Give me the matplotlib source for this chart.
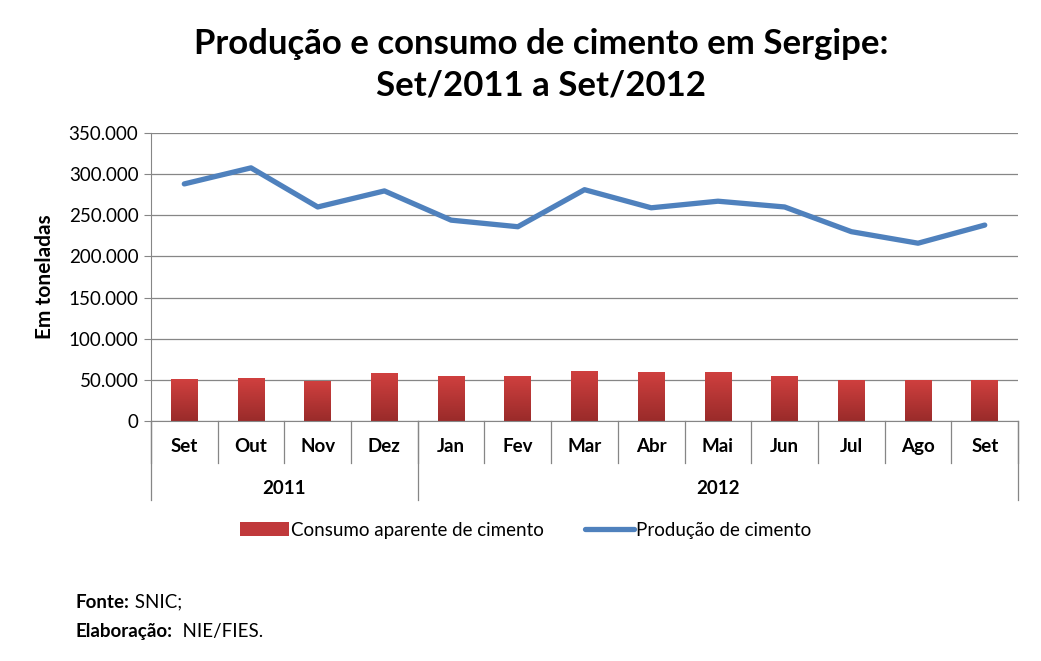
import matplotlib.pyplot as plt
import matplotlib.transforms as mtransforms
from matplotlib.colors import LinearSegmentedColormap
import numpy as np

# dados
meses = ['Set', 'Out', 'Nov', 'Dez', 'Jan', 'Fev', 'Mar', 'Abr', 'Mai', 'Jun', 'Jul', 'Ago', 'Set']
anos = ['2011', '2012']
meses_por_ano = [4, 9]
consumo = [51000, 52000, 49000, 58000, 55000, 55000, 61000, 60000, 60000, 55000, 50000, 50000, 50000]
producao = [288000, 307500, 260000, 279500, 244000, 236000, 281000, 259000, 267000, 260000, 230000, 216000, 238000]
yticks = list(range(0, 350001, 50000))

plt.rcParams['font.family'] = ['Lato', 'DejaVu Sans']

fig = plt.figure(figsize=(10.41, 6.61), dpi=100)
ax = fig.add_axes([0.145, 0.363, 0.833, 0.436])

x = np.arange(len(meses))
bars = ax.bar(x, consumo, width=0.4, color='#C0393B', zorder=2)

# gradiente vertical nas barras
grad = np.linspace(0, 1, 64).reshape(-1, 1)
cmap = LinearSegmentedColormap.from_list('red', ['#9A2B2A', '#D0403F'])
for b in bars:
    x0, y0 = b.get_x(), b.get_y()
    im = ax.imshow(grad, extent=[x0, x0 + b.get_width(), y0, y0 + b.get_height()],
                   origin='lower', cmap=cmap, aspect='auto', zorder=2.1)
    im.set_clip_path(b)

linha, = ax.plot(x, producao, color='#4F81BD', linewidth=3.8, solid_capstyle='round',
                 solid_joinstyle='round', zorder=3)

ax.set_xlim(-0.5, len(meses) - 0.5)
ax.set_ylim(0, 350000)
ax.set_yticks(yticks)
ax.set_yticklabels(['0' if v == 0 else f'{v // 1000}.000' for v in yticks], fontsize=13.5)
ax.yaxis.grid(True, color='#868686', linewidth=0.9, zorder=0)
ax.set_axisbelow(True)
for s in ['top', 'right']:
    ax.spines[s].set_visible(False)
ax.spines['left'].set_color('#868686')
ax.spines['bottom'].set_color('#868686')
ax.tick_params(axis='y', length=5, color='#868686', pad=4)
ax.set_xticks([])
ax.set_ylabel('Em toneladas', fontsize=15, fontweight='bold', labelpad=10)

# eixo de categorias em dois niveis
trans = mtransforms.blended_transform_factory(ax.transData, ax.transAxes)
for i in range(len(meses) + 1):
    ax.plot([i - 0.5, i - 0.5], [0, -0.145], transform=trans, color='#868686',
            linewidth=0.9, clip_on=False)
for i, m in enumerate(meses):
    ax.text(i, -0.09, m, transform=trans, ha='center', va='center',
            fontsize=13.5, fontweight='bold')
limites = [0]
for n in meses_por_ano:
    limites.append(limites[-1] + n)
for k, ano in enumerate(anos):
    a, b = limites[k], limites[k + 1]
    ax.plot([a - 0.5, a - 0.5], [0, -0.275], transform=trans, color='#868686',
            linewidth=0.9, clip_on=False)
    ax.text((a + b - 1) / 2, -0.235, ano, transform=trans, ha='center', va='center',
            fontsize=13.5, fontweight='bold')
ax.plot([limites[-1] - 0.5] * 2, [0, -0.275], transform=trans, color='#868686',
        linewidth=0.9, clip_on=False)

fig.text(0.52, 0.902, 'Produção e consumo de cimento em Sergipe:\nSet/2011 a Set/2012',
         ha='center', va='center', fontsize=25, fontweight='bold', linespacing=1.4)

fig.legend(handles=[bars, linha], labels=['Consumo aparente de cimento', 'Produção de cimento'],
           loc='center', bbox_to_anchor=(0.505, 0.198), ncol=2, frameon=False,
           fontsize=13.5, handlelength=2.6, handletextpad=0.1, columnspacing=2.2)

# rodape
t1 = fig.text(0.073, 0.089, 'Fonte:', fontsize=13.5, fontweight='bold', va='center')
t2 = fig.text(0.073, 0.045, 'Elaboração:', fontsize=13.5, fontweight='bold', va='center')
fig.canvas.draw()
r = fig.canvas.get_renderer()
bb1 = t1.get_window_extent(r).transformed(fig.transFigure.inverted())
bb2 = t2.get_window_extent(r).transformed(fig.transFigure.inverted())
fig.text(bb1.x1, 0.089, ' SNIC;', fontsize=13.5, va='center')
fig.text(bb2.x1, 0.045, '  NIE/FIES.', fontsize=13.5, va='center')

fig.savefig('out.png', dpi=100)
